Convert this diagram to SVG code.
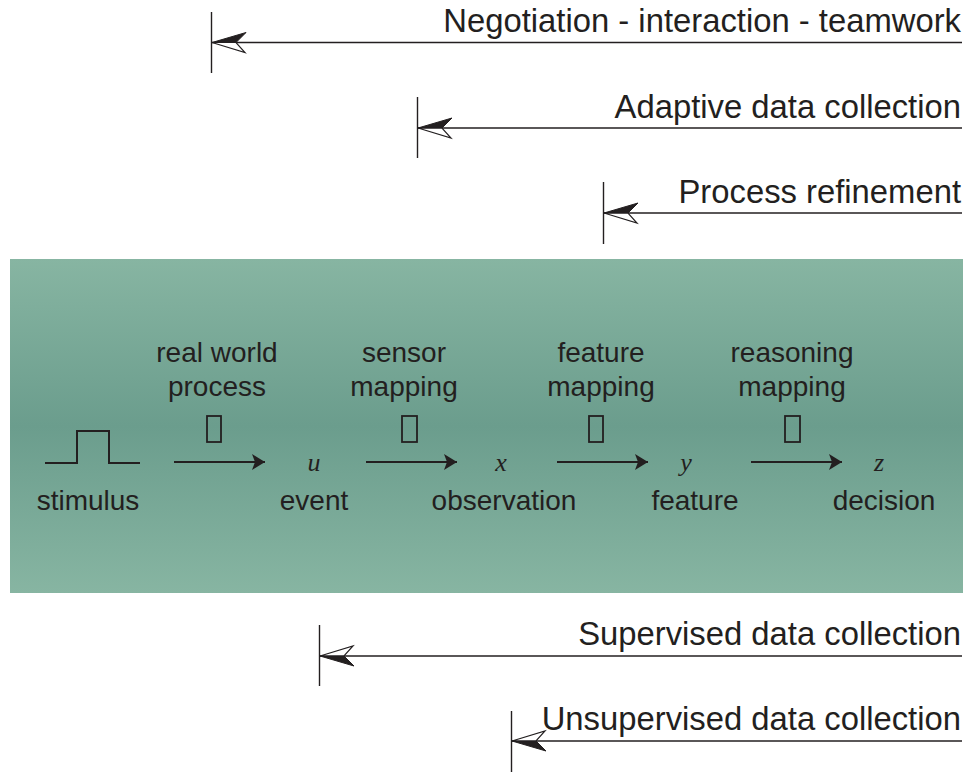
<svg xmlns="http://www.w3.org/2000/svg" width="967" height="772" viewBox="0 0 967 772">
  <defs>
    <linearGradient id="band" x1="0" y1="0" x2="0" y2="1">
      <stop offset="0" stop-color="#87b5a2"/>
      <stop offset="0.5" stop-color="#6b9d8d"/>
      <stop offset="1" stop-color="#87b5a2"/>
    </linearGradient>
    <marker id="head" viewBox="0 0 14 16" refX="13" refY="8" markerWidth="14" markerHeight="16" markerUnits="userSpaceOnUse" orient="auto">
      <path d="M13,8 L0,0 L3,8 L0,16 Z" fill="#231f20"/>
    </marker>
  </defs>
  <style>
    .lbl { font-family: "Liberation Sans", Arial, Helvetica, sans-serif; fill: #231f20; }
    .top { font-size: 32.8px; text-anchor: end; }
    .in { font-size: 28px; text-anchor: middle; }
    .var { font-family: "Liberation Serif", "Times New Roman", serif; font-style: italic; font-size: 26px; fill: #231f20; text-anchor: middle; }
    .line { stroke: #231f20; stroke-width: 1.5; fill: none; }
    .bar { stroke: #231f20; stroke-width: 1.4; fill: none; }
    .solid { fill: #231f20; stroke: #231f20; stroke-width: 1; stroke-linejoin: miter; }
    .open { fill: #ffffff; stroke: #231f20; stroke-width: 1.2; stroke-linejoin: miter; }
    .flow { stroke: #231f20; stroke-width: 2; fill: none; }
    .tofu { fill: none; stroke: #231f20; stroke-width: 1.8; }
  </style>

  <!-- processing chain band -->
  <rect x="10" y="259" width="953" height="334" fill="url(#band)"/>

  <!-- scope arrows above the band (upper half of head filled) -->
  <g id="scope-negotiation">
    <line class="bar" x1="211.5" y1="12" x2="211.5" y2="73"/>
    <line class="line" x1="212" y1="42.5" x2="962" y2="42.5"/>
    <path class="open" d="M212,42.5 L236,42.5 L245,52.5 Z"/>
    <path class="solid" d="M212,42.5 L246,32.5 L236,42.5 Z"/>
    <text class="lbl top" x="961" y="32">Negotiation - interaction - teamwork</text>
  </g>
  <g id="scope-adaptive">
    <line class="bar" x1="417.5" y1="97" x2="417.5" y2="158"/>
    <line class="line" x1="418" y1="128" x2="962" y2="128"/>
    <path class="open" d="M418,128 L442,128 L451,138 Z"/>
    <path class="solid" d="M418,128 L452,118 L442,128 Z"/>
    <text class="lbl top" x="961" y="118">Adaptive data collection</text>
  </g>
  <g id="scope-refinement">
    <line class="bar" x1="603.5" y1="182" x2="603.5" y2="244"/>
    <line class="line" x1="604" y1="213" x2="962" y2="213"/>
    <path class="open" d="M604,213 L628,213 L637,223 Z"/>
    <path class="solid" d="M604,213 L638,203 L628,213 Z"/>
    <text class="lbl top" x="961" y="203">Process refinement</text>
  </g>

  <!-- scope arrows below the band (lower half of head filled) -->
  <g id="scope-supervised">
    <line class="bar" x1="319.5" y1="625" x2="319.5" y2="686"/>
    <line class="line" x1="320" y1="656" x2="962" y2="656"/>
    <path class="open" d="M320,656 L344,656 L353,646 Z"/>
    <path class="solid" d="M320,656 L354,666 L344,656 Z"/>
    <text class="lbl top" x="961" y="645">Supervised data collection</text>
  </g>
  <g id="scope-unsupervised">
    <line class="bar" x1="511.5" y1="711" x2="511.5" y2="772"/>
    <line class="line" x1="512" y1="741" x2="962" y2="741"/>
    <path class="open" d="M512,741 L536,741 L545,731 Z"/>
    <path class="solid" d="M512,741 L546,751 L536,741 Z"/>
    <text class="lbl top" x="961" y="730">Unsupervised data collection</text>
  </g>

  <!-- chain stages -->
  <g id="stimulus">
    <polyline class="flow" points="45,463 77,463 77,431 109,431 109,463 140,463"/>
    <text class="lbl in" x="88" y="510">stimulus</text>
  </g>
  <g id="event">
    <text class="var" x="314" y="471">u</text>
    <text class="lbl in" x="314" y="510">event</text>
  </g>
  <g id="observation">
    <text class="var" x="501" y="471">x</text>
    <text class="lbl in" x="504" y="510">observation</text>
  </g>
  <g id="feature">
    <text class="var" x="686" y="471">y</text>
    <text class="lbl in" x="695" y="510">feature</text>
  </g>
  <g id="decision">
    <text class="var" x="879" y="471">z</text>
    <text class="lbl in" x="884" y="510">decision</text>
  </g>

  <!-- mapping labels -->
  <g id="map-process">
    <text class="lbl in" x="217" y="362">real world</text>
    <text class="lbl in" x="217" y="396">process</text>
    <rect class="tofu" x="207" y="416" width="14" height="26"/>
  </g>
  <g id="map-sensor">
    <text class="lbl in" x="404" y="362">sensor</text>
    <text class="lbl in" x="404" y="396">mapping</text>
    <rect class="tofu" x="402" y="416" width="15" height="26"/>
  </g>
  <g id="map-feature">
    <text class="lbl in" x="601" y="362">feature</text>
    <text class="lbl in" x="601" y="396">mapping</text>
    <rect class="tofu" x="589" y="416" width="14" height="26"/>
  </g>
  <g id="map-reasoning">
    <text class="lbl in" x="792" y="362">reasoning</text>
    <text class="lbl in" x="792" y="396">mapping</text>
    <rect class="tofu" x="785" y="416" width="15" height="26"/>
  </g>

  <!-- chain connectors -->
  <g id="connectors">
    <line class="flow" x1="174" y1="462" x2="265" y2="462" marker-end="url(#head)"/>
    <line class="flow" x1="366" y1="462" x2="457" y2="462" marker-end="url(#head)"/>
    <line class="flow" x1="557" y1="462" x2="648" y2="462" marker-end="url(#head)"/>
    <line class="flow" x1="751" y1="462" x2="842" y2="462" marker-end="url(#head)"/>
  </g>
</svg>
